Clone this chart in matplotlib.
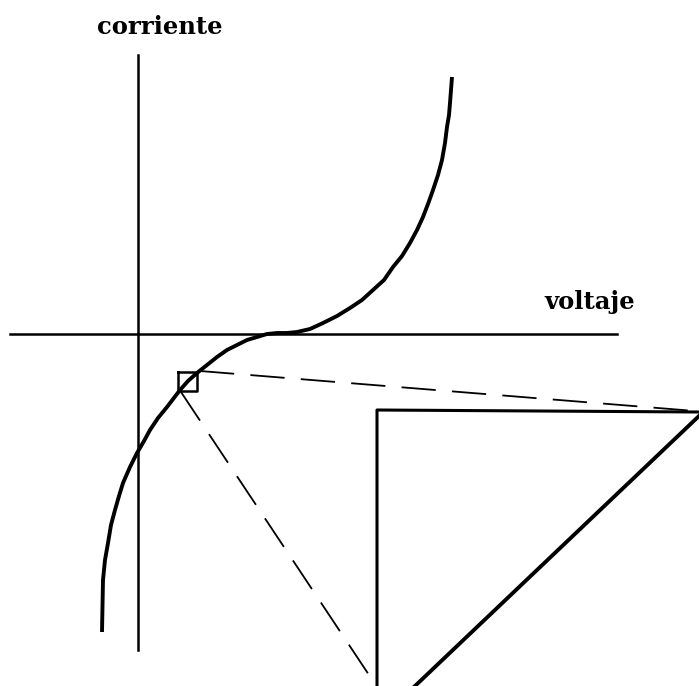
import matplotlib.pyplot as plt

# all positions (pixel units, y downwards)
curve_x = [102, 103, 105, 108, 111, 115, 119, 123, 130, 137, 144, 150, 158, 167,
           180, 188, 197, 207, 217, 227, 237, 247, 257, 267, 277, 287, 297, 310,
           323, 337, 350, 362, 373, 384, 393, 402, 410, 417, 423, 428, 433, 438,
           442, 445, 447, 449, 450, 452]
curve_y = [632, 580, 560, 543, 525, 510, 496, 483, 467, 453, 441, 430, 418, 407,
           390, 381, 373, 365, 357, 350, 345, 340, 337, 334, 333, 333, 332, 329,
           323, 316, 308, 300, 290, 280, 267, 256, 243, 230, 217, 204, 190, 175,
           160, 143, 127, 115, 103, 77]

axis_v_x = [138, 138]
axis_v_y = [55, 650]
axis_h_x = [10, 617]
axis_h_y = [334, 334]

square_x = [178, 197, 197, 178, 178]
square_y = [372, 372, 391, 391, 372]

dash_top_x = [200, 695]
dash_top_y = [371, 411]
dash_bot_x = [181, 375]
dash_bot_y = [392, 684]

box_x = [377, 377, 699]
box_y = [686, 410, 412]
zoom_line_x = [415, 699]
zoom_line_y = [686, 416]

fig = plt.figure(figsize=(6.99, 6.86), dpi=100)
ax = fig.add_axes([0, 0, 1, 1])
ax.set_xlim(0, 699)
ax.set_ylim(686, 0)
ax.axis('off')

ax.plot(axis_v_x, axis_v_y, color='black', lw=1.8)
ax.plot(axis_h_x, axis_h_y, color='black', lw=1.8)
ax.plot(curve_x, curve_y, color='black', lw=2.8, solid_capstyle='butt',
        solid_joinstyle='round')
ax.plot(square_x, square_y, color='black', lw=1.8)

ax.plot(dash_top_x, dash_top_y, color='black', lw=1.3, dashes=(19, 9))
ax.plot(dash_bot_x, dash_bot_y, color='black', lw=1.3, dashes=(19, 9))

ax.plot(box_x, box_y, color='black', lw=2.2)
ax.plot(zoom_line_x, zoom_line_y, color='black', lw=2.8)

ax.text(160, 27, 'corriente', ha='center', va='center', fontsize=17.5,
        fontweight='bold', family='DejaVu Serif')
ax.text(590, 302, 'voltaje', ha='center', va='center', fontsize=17.5,
        fontweight='bold', family='DejaVu Serif')

plt.savefig('out.png', dpi=100, facecolor='white')
